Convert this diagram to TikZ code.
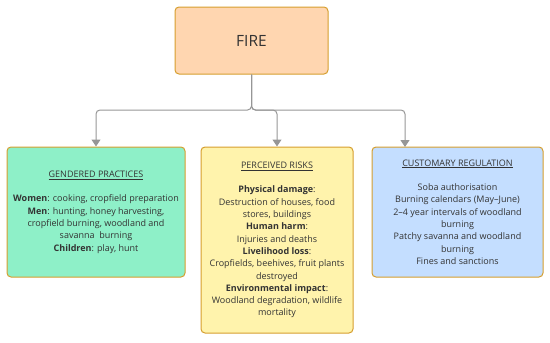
\documentclass[tikz,border=0pt]{standalone}
\usepackage{fontspec}
\setmainfont{Open Sans}
\usepackage{xcolor}
\usepackage{tikz}
\usetikzlibrary{calc,positioning,arrows.meta}

\definecolor{firefill}{RGB}{255,214,176}
\definecolor{boxline}{RGB}{214,158,46}
\definecolor{mint}{RGB}{142,240,200}
\definecolor{paleyellow}{RGB}{255,243,172}
\definecolor{paleblue}{RGB}{196,222,255}
\definecolor{linkgray}{RGB}{150,150,150}
\definecolor{inkgray}{RGB}{51,51,51}

\begin{document}
\begin{tikzpicture}[
    x=1pt, y=-1pt,
    topic/.style={rectangle, draw=boxline, fill=firefill, line width=1pt, minimum width=153pt, minimum height=67pt, rounded corners=4pt, align=center, text=inkgray, font=\fontsize{15.5}{18}\selectfont},
    panel/.style={rectangle, draw=boxline, line width=1pt, rounded corners=4pt, align=center, inner sep=0pt, text=inkgray, font=\fontsize{9}{12.3}\selectfont},
    link/.style={draw=linkgray, line width=1pt, rounded corners=4pt, -{Triangle[width=9pt,length=7pt]}}
]
    \useasboundingbox (0,0) rectangle (550,343);

    \node[topic] (fire) at (251.5,40.5) {FIRE};

    \node[panel, fill=mint, minimum width=178pt, minimum height=130pt] (gender) at (96,212) {\underline{GENDERED PRACTICES}\\[12.3pt]
        \textbf{Women}: cooking, cropfield preparation\\
        \textbf{Men}: hunting, honey harvesting,\\
        cropfield burning, woodland and\\
        savanna\ \ burning\\
        \textbf{Children}: play, hunt};
    \node[panel, fill=paleyellow, minimum width=152pt, minimum height=186pt] (risks) at (277,240) {\underline{PERCEIVED RISKS}\\[12.3pt]
        \textbf{Physical damage}:\\
        Destruction of houses, food\\
        stores, buildings\\
        \textbf{Human harm}:\\
        Injuries and deaths\\
        \textbf{Livelihood loss}:\\
        Cropfields, beehives, fruit plants\\
        destroyed\\
        \textbf{Environmental impact}:\\
        Woodland degradation, wildlife\\
        mortality};
    \node[panel, fill=paleblue, minimum width=171pt, minimum height=130pt] (custom) at (457.5,212) {\underline{CUSTOMARY REGULATION}\\[12.3pt]
        Soba authorisation\\
        Burning calendars (May--June)\\
        2--4 year intervals of woodland\\
        burning\\
        Patchy savanna and woodland\\
        burning\\
        Fines and sanctions};

    % branching point under the topic box
    \coordinate (split) at (251.5,110);
    \coordinate (customin) at (405,147);

    \draw[link] (fire.south) -- (split) -| (gender.north);
    \draw[link] (fire.south) -- (split) -| (risks.north);
    \draw[link] (fire.south) -- (split) -| (customin);
\end{tikzpicture}
\end{document}
